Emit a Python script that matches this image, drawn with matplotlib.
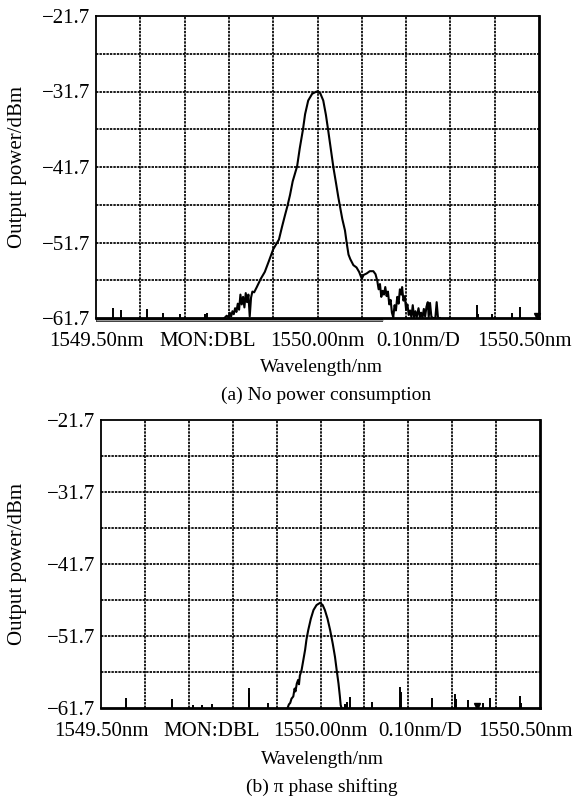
import numpy as np
import matplotlib
matplotlib.use("Agg")
from matplotlib import pyplot as plt


# ---- data ------------------------------------------------------------------
WL_MIN, WL_MAX = 1549.5, 1550.5
P_MIN, P_MAX = -61.7, -21.7

y_ticks = [-61.7, -51.7, -41.7, -31.7, -21.7]
y_tick_labels = ['\u221261.7', '\u221251.7', '\u221241.7', '\u221231.7', '\u221221.7']
x_label_pos = [1549.5, 1549.752, 1550.0, 1550.228, 1550.467]
x_label_txt = ['1549.50nm', 'MON:DBL', '1550.00nm', '0.10nm/D', '1550.50nm']

# (a) no power consumption: main trace
a_wl = [1549.790, 1549.795, 1549.799, 1549.802, 1549.805, 1549.808, 1549.811,
        1549.814, 1549.817, 1549.820, 1549.823, 1549.826, 1549.829, 1549.832,
        1549.835, 1549.838, 1549.841, 1549.844, 1549.847, 1549.850, 1549.853,
        1549.857, 1549.863, 1549.872, 1549.881, 1549.890, 1549.900, 1549.907,
        1549.913, 1549.920, 1549.927, 1549.932, 1549.938, 1549.944, 1549.950,
        1549.954, 1549.960, 1549.967, 1549.972, 1549.979, 1549.988, 1549.998,
        1550.006, 1550.013, 1550.019, 1550.024, 1550.030, 1550.036, 1550.042,
        1550.047, 1550.051, 1550.056, 1550.062, 1550.066, 1550.070, 1550.074,
        1550.081, 1550.088, 1550.094, 1550.100, 1550.104, 1550.111, 1550.118,
        1550.126, 1550.131, 1550.135, 1550.138, 1550.141, 1550.144, 1550.147,
        1550.150, 1550.153, 1550.156, 1550.159, 1550.162, 1550.165, 1550.168,
        1550.171, 1550.174, 1550.177, 1550.180, 1550.183, 1550.186, 1550.189,
        1550.191, 1550.194, 1550.197, 1550.200, 1550.203, 1550.206, 1550.209,
        1550.212, 1550.215, 1550.218, 1550.221, 1550.224, 1550.228, 1550.231,
        1550.234, 1550.237, 1550.240, 1550.243, 1550.246, 1550.249, 1550.251,
        1550.254, 1550.257, 1550.260, 1550.266, 1550.269, 1550.272, 1550.276]
a_pw = [-61.7, -61.4, -61.6, -61.0, -61.5, -60.8, -61.2,
        -60.4, -60.9, -59.8, -60.6, -58.6, -59.9, -58.9,
        -60.3, -58.4, -59.6, -58.6, -61.5, -59.0, -58.2,
        -58.3, -57.6, -56.5, -55.6, -54.2, -52.6, -51.9,
        -51.3, -49.6, -48.0, -46.9, -45.4, -43.6, -42.4,
        -41.6, -39.2, -36.8, -34.7, -32.9, -32.0, -31.7,
        -31.9, -32.9, -34.8, -36.8, -39.3, -41.8, -43.9,
        -45.7, -47.0, -48.6, -50.1, -51.8, -53.3, -53.9,
        -54.7, -55.0, -55.6, -56.5, -56.0, -55.8, -55.5,
        -55.5, -55.9, -56.8, -57.9, -57.2, -58.9, -58.1,
        -58.6, -57.6, -58.8, -58.2, -59.9, -59.3, -61.0,
        -61.6, -60.0, -60.7, -58.9, -59.8, -57.9, -58.6,
        -57.6, -59.4, -58.8, -60.6, -59.9, -61.3, -60.7,
        -61.6, -60.0, -61.6, -60.8, -61.6, -60.4, -61.6,
        -61.0, -61.7, -60.5, -61.5, -60.2, -59.6, -61.6,
        -59.7, -61.5, -61.7, -61.7, -59.6, -61.7, -61.7]
a_spike_wl = [1549.538, 1549.557, 1549.614, 1549.652, 1549.690, 1549.746,
              1549.751, 1550.359, 1550.362, 1550.393, 1550.438, 1550.457,
              1550.495]
a_spike_pw = [-60.4, -60.7, -60.5, -61.0, -61.2, -61.2,
              -61.0, -60.0, -61.2, -61.2, -61.0, -60.3,
              -61.0]

# (b) pi phase shifting
b_wl = [1549.925, 1549.928, 1549.931, 1549.934, 1549.938, 1549.941, 1549.943,
        1549.946, 1549.949, 1549.951, 1549.953, 1549.957, 1549.961, 1549.965,
        1549.968, 1549.972, 1549.978, 1549.984, 1549.991, 1549.999, 1550.005,
        1550.010, 1550.016, 1550.022, 1550.028, 1550.033, 1550.037, 1550.041,
        1550.044, 1550.046, 1550.048]
b_pw = [-61.7, -61.2, -61.0, -60.4, -60.1, -59.0, -59.4,
        -58.3, -57.8, -58.4, -57.2, -56.4, -55.0, -53.6,
        -52.2, -50.9, -49.3, -48.1, -47.4, -47.1, -47.4,
        -48.1, -49.3, -50.9, -52.8, -54.6, -56.5, -58.3,
        -60.0, -61.3, -61.7]
b_spike_wl = [1549.557, 1549.661, 1549.710, 1549.731, 1549.752, 1549.836,
              1549.838, 1549.881, 1550.056, 1550.060, 1550.067, 1550.118,
              1550.181, 1550.183, 1550.253, 1550.306, 1550.309, 1550.337,
              1550.371, 1550.386, 1550.454, 1550.457]
b_spike_pw = [-60.3, -60.4, -61.3, -61.3, -61.2, -59.6,
              -58.9, -61.0, -61.2, -60.9, -60.2, -60.9,
              -58.8, -59.5, -60.3, -59.8, -60.4, -60.6,
              -61.0, -60.3, -60.0, -61.0]
a_marker = (1550.495, -61.4)
b_marker = (1550.356, -61.4)

FONT = 'Liberation Serif'
FS = 15
plt.rcParams['font.family'] = [FONT, 'DejaVu Serif']
GRID = dict(color='black', lw=1.25, ls=(0, (1.4, 0.6)), zorder=1)


def setup_axes(ax):
    ax.set_xlim(WL_MIN, WL_MAX)
    ax.set_ylim(P_MIN, P_MAX)
    for g in np.arange(1, 10):
        ax.axvline(WL_MIN + g * 0.1, **GRID)
    for g in np.arange(1, 8):
        ax.axhline(P_MIN + g * 5, **GRID)
    ax.set_yticks(y_ticks, y_tick_labels, fontsize=FS)
    ax.set_xticks(x_label_pos, x_label_txt, fontsize=FS)
    ax.tick_params(length=0)
    ax.tick_params(axis='y', pad=4)
    ax.tick_params(axis='x', pad=10)
    for s in ['top', 'left']:
        ax.spines[s].set_linewidth(1.3)
    for s in ['right', 'bottom']:
        ax.spines[s].set_linewidth(2.0)


fig = plt.figure(figsize=(5.73, 8.0), dpi=100)
ax_a = fig.add_axes([96 / 573, 1 - 318 / 800, 443 / 573, 302 / 800])
ax_b = fig.add_axes([101 / 573, 1 - 708 / 800, 439 / 573, 288 / 800])

setup_axes(ax_a)
ax_a.plot([WL_MIN, 1550.148], [P_MIN - 0.3, P_MIN - 0.3], color='black', lw=2.6,
          clip_on=False, zorder=2, solid_capstyle='butt')
ax_a.plot([WL_MIN, 1550.148], [P_MIN - 0.3, P_MIN - 0.3], color='#9a9a9a', lw=1.0,
          clip_on=False, zorder=2, solid_capstyle='butt')
ax_a.plot(a_wl, a_pw, color='black', lw=1.5, zorder=3)
ax_a.vlines(a_spike_wl, P_MIN, a_spike_pw, color='black', lw=1.4, zorder=3)
ax_a.plot(*a_marker, marker='v', color='black', ms=5, zorder=4, clip_on=False)

setup_axes(ax_b)
ax_b.plot(b_wl, b_pw, color='black', lw=1.5, zorder=3)
ax_b.vlines(b_spike_wl, P_MIN, b_spike_pw, color='black', lw=1.4, zorder=3)
ax_b.plot(*b_marker, marker='v', color='black', ms=5, zorder=4)

fig.text(18 / 573, 1 - 167 / 800, 'Output power/dBm', rotation=90, ha='center',
         va='center', fontsize=FS)
fig.text(18 / 573, 1 - 564 / 800, 'Output power/dBm', rotation=90, ha='center',
         va='center', fontsize=FS)
fig.text(321 / 573, 1 - 367 / 800, 'Wavelength/nm', ha='center', va='center', fontsize=14)
fig.text(326 / 573, 1 - 395 / 800, '(a) No power consumption', ha='center',
         va='center', fontsize=14)
fig.text(322 / 573, 1 - 760 / 800, 'Wavelength/nm', ha='center', va='center', fontsize=14)
fig.text(322 / 573, 1 - 787 / 800, '(b) \u03c0 phase shifting', ha='center',
         va='center', fontsize=14)

fig.savefig('out.png', dpi=100)
